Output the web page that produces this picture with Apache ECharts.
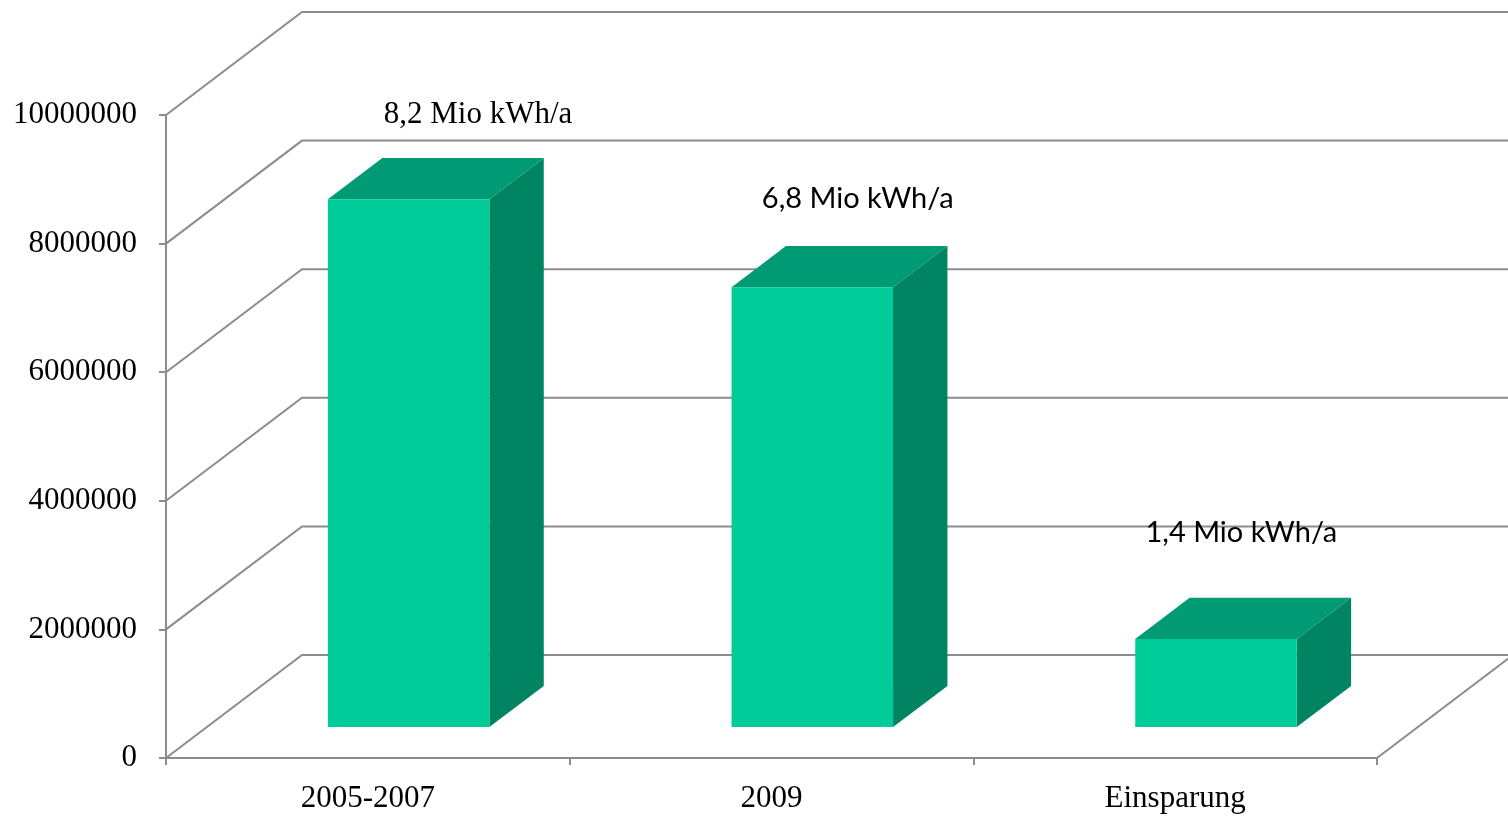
<!DOCTYPE html>
<html>
<head>
<meta charset="utf-8">
<script src="https://cdn.jsdelivr.net/npm/echarts@6/dist/echarts.min.js"></script>
<style>
  html, body { margin: 0; padding: 0; background: #fff; }
  #chart { width: 1508px; height: 816px; }
</style>
</head>
<body>
<div id="chart"></div>
<script>
// Daten
var categories = ['2005-2007', '2009', 'Einsparung'];
var values = [8210000, 6840000, 1370000];
var barLabels = ['8,2 Mio kWh/a', '6,8 Mio kWh/a', '1,4 Mio kWh/a'];
var yTicks = [0, 2000000, 4000000, 6000000, 8000000, 10000000];

// Darstellung (3D-Tiefe, Farben, Label-Versatz)
var depth = [136, -103];
var barFront = 0.3;
var barBack = 0.7;
var gridColor = '#8c8c8c';
var labelOffsets = [[15, -43], [-9, -47], [-29, -65]];
var labelFonts = ['"Liberation Serif", "Times New Roman", serif', 'Lato, "Liberation Sans", sans-serif', 'Lato, "Liberation Sans", sans-serif'];

var chart = echarts.init(document.getElementById('chart'));

function renderWall(params, api) {
  var cs = params.coordSys;
  var v = api.value(0);
  var p = api.coord([0, v]);
  var x0 = cs.x, y = p[1];
  var pts = [[x0, y], [x0 + depth[0], y + depth[1]], [cs.x + cs.width + depth[0] + 20, y + depth[1]]];
  var children = [{
    type: 'polyline',
    shape: { points: pts },
    style: { stroke: gridColor, lineWidth: 2, fill: null }
  }];
  if (v === 0) {
    children.push({
      type: 'line',
      shape: { x1: cs.x + cs.width, y1: y, x2: cs.x + cs.width + depth[0], y2: y + depth[1] },
      style: { stroke: gridColor, lineWidth: 2 }
    });
  }
  return { type: 'group', children: children };
}

function renderBar(params, api) {
  var i = api.value(0);
  var base = api.coord([i, 0]);
  var top = api.coord([i, api.value(1)]);
  var bw = api.size([1, 0])[0] * 0.4;
  var fx = depth[0] * barFront, fy = depth[1] * barFront;
  var d = barBack - barFront;
  var ddx = depth[0] * d, ddy = depth[1] * d;
  var L = base[0] - bw / 2 + fx, R = L + bw;
  var B = base[1] + fy, T = top[1] + fy;
  var idx = params.dataIndex;
  return {
    type: 'group',
    children: [
      {
        type: 'polygon',
        shape: { points: [[R, T], [R + ddx, T + ddy], [R + ddx, B + ddy], [R, B]] },
        style: { fill: '#008462' }
      },
      {
        type: 'polygon',
        shape: { points: [[L, T], [R, T], [R + ddx, T + ddy], [L + ddx, T + ddy]] },
        style: { fill: '#009a74' }
      },
      {
        type: 'rect',
        shape: { x: L, y: T, width: bw, height: B - T },
        style: { fill: '#00cc99' }
      },
      {
        type: 'text',
        x: (L + R) / 2 + ddx + labelOffsets[idx][0],
        y: T + ddy + labelOffsets[idx][1],
        style: {
          text: barLabels[idx],
          fill: '#000',
          font: (idx === 0 ? '31px ' : '29px ') + labelFonts[idx],
          align: 'center',
          verticalAlign: 'middle'
        }
      }
    ]
  };
}

chart.setOption({
  backgroundColor: '#fff',
  animation: false,
  grid: { left: 166, right: 131, top: 115, bottom: 58, containLabel: false, outerBoundsMode: 'none' },
  xAxis: {
    type: 'category',
    data: categories,
    boundaryGap: true,
    axisLine: { lineStyle: { color: gridColor, width: 2 } },
    axisTick: { show: true, length: 7, lineStyle: { color: gridColor, width: 2 } },
    axisLabel: { color: '#000', fontFamily: '"Liberation Serif", serif', fontSize: 31, margin: 25 }
  },
  yAxis: {
    type: 'value',
    min: 0,
    max: 10000000,
    interval: 2000000,
    axisLine: { show: true, lineStyle: { color: gridColor, width: 2 } },
    axisTick: { show: true, length: 7, lineStyle: { color: gridColor, width: 2 } },
    splitLine: { show: false },
    axisLabel: {
      color: '#000',
      fontFamily: '"Liberation Serif", serif',
      fontSize: 31,
      margin: 29,
      padding: [5, 0, 0, 0],
      formatter: function (v) { return String(v); }
    }
  },
  series: [
    {
      type: 'custom',
      renderItem: renderWall,
      data: yTicks.map(function (v) { return [v]; }),
      encode: { y: 0 },
      clip: false,
      silent: true,
      z: 1
    },
    {
      type: 'custom',
      renderItem: renderBar,
      data: values.map(function (v, i) { return [i, v]; }),
      encode: { x: 0, y: 1 },
      clip: false,
      z: 2
    }
  ]
});
</script>
</body>
</html>
